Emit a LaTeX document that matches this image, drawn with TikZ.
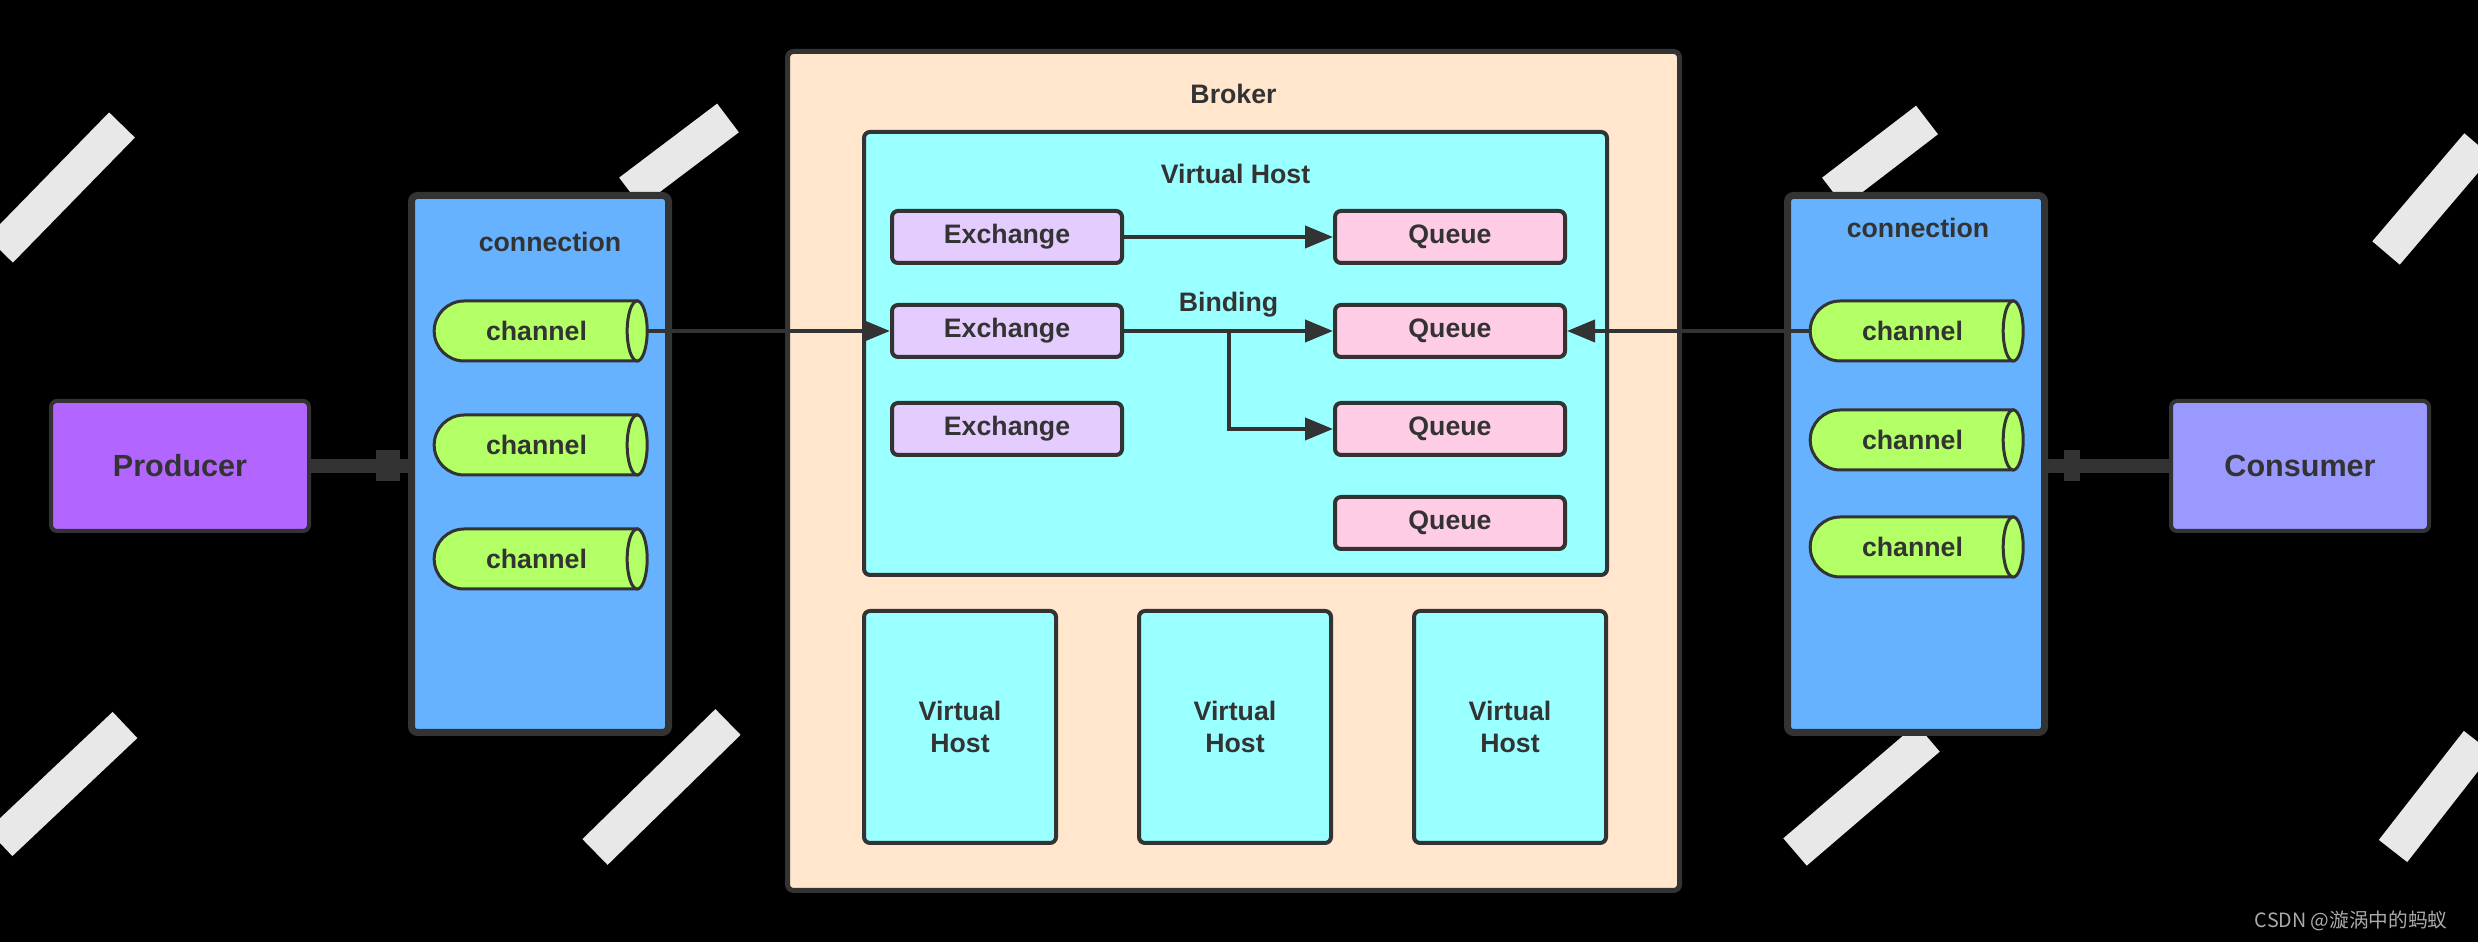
\documentclass[tikz,border=0pt]{standalone}
\usepackage{fontspec}
\setmainfont{Liberation Sans}
\newfontfamily\cjk{Noto Sans CJK SC}
\usetikzlibrary{arrows.meta,positioning,calc,shapes.misc}
\definecolor{ink}{RGB}{51,51,51}
\definecolor{prodpurple}{RGB}{178,102,255}
\definecolor{conslilac}{RGB}{153,153,255}
\definecolor{connblue}{RGB}{102,178,255}
\definecolor{changreen}{RGB}{178,255,102}
\definecolor{brokerpeach}{RGB}{255,230,204}
\definecolor{vhostcyan}{RGB}{153,255,255}
\definecolor{exlilac}{RGB}{229,204,255}
\definecolor{queuepink}{RGB}{255,204,229}
\definecolor{markgray}{RGB}{232,232,232}
\definecolor{csdngray}{RGB}{170,170,170}

\begin{document}
\begin{tikzpicture}[
    every node/.style={font=\bfseries\fontsize{7.6}{9}\selectfont, text=ink},
    box/.style={draw=ink, line width=0.04cm, rounded corners=0.06cm, inner sep=0pt, align=center},
    endbox/.style={box, minimum width=2.58cm, minimum height=1.30cm, font=\bfseries\fontsize{8.7}{10}\selectfont},
    connbox/.style={box, fill=connblue, line width=0.07cm, minimum width=2.57cm, minimum height=5.37cm},
    exbox/.style={box, fill=exlilac, minimum width=2.30cm, minimum height=0.52cm},
    qbox/.style={box, fill=queuepink, minimum width=2.30cm, minimum height=0.52cm},
    vhbox/.style={box, fill=vhostcyan, minimum width=1.92cm, minimum height=2.32cm},
    chan/.style={rounded rectangle, rounded rectangle right arc=none, draw=ink, line width=0.03cm, fill=changreen, minimum width=2.03cm, minimum height=0.60cm, inner sep=0pt, outer sep=0pt},
    chanend/.style={draw=ink, line width=0.03cm, fill=changreen},
    flow/.style={draw=ink, line width=0.04cm, -{Triangle[length=0.28cm, width=0.22cm]}},
    link/.style={draw=ink, line width=0.14cm},
    wmark/.style={draw=markgray, line width=0.36cm}
  ]
    % background and margins
    \fill[black] (0,0) rectangle (24.78,9.42);
    \useasboundingbox (0,0) rectangle (24.78,9.42);

    % watermark strokes
    \draw[wmark] (0,6.92) -- (1.22,8.17);
    \draw[wmark] (6.30,7.50) -- (7.28,8.24);
    \draw[wmark] (18.33,7.50) -- (19.27,8.22);
    \draw[wmark] (23.86,6.89) -- (24.78,7.97);
    \draw[wmark] (0,0.99) -- (1.25,2.17);
    \draw[wmark] (5.95,0.90) -- (7.28,2.20);
    \draw[wmark] (17.95,0.90) -- (19.28,2.04);
    \draw[wmark] (23.93,0.91) -- (24.78,2.00);

    % broker with its virtual hosts
    \node[box, fill=brokerpeach, line width=0.05cm, minimum width=8.92cm, minimum height=8.39cm] (broker) at (12.335,4.71) {};
    \node (brokerlbl) at ([yshift=-0.45cm]broker.north) {Broker};
    \node[box, fill=vhostcyan, minimum width=7.43cm, minimum height=4.43cm] (vhost) at (12.355,5.885) {};
    \node (vhostlbl) at ([yshift=-0.44cm]vhost.north) {Virtual Host};

    \node[exbox] (ex2) at (10.07,6.11) {Exchange};
    \node[exbox, above=0.38cm of ex2] (ex1) {Exchange};
    \node[exbox, below=0.42cm of ex2] (ex3) {Exchange};
    \node[qbox, right=2.09cm of ex2] (q2) {Queue};
    \node[qbox, above=0.38cm of q2] (q1) {Queue};
    \node[qbox, below=0.42cm of q2] (q3) {Queue};
    \node[qbox, below=0.38cm of q3] (q4) {Queue};

    \node[vhbox] (vh1) at (9.60,2.15) {Virtual\\Host};
    \node[vhbox, right=0.79cm of vh1] (vh2) {Virtual\\Host};
    \node[vhbox, right=0.79cm of vh2] (vh3) {Virtual\\Host};

    % connections and channels
    \node[connbox] (lconn) at (5.40,4.78) {};
    \node (lconnlbl) at ([xshift=0.10cm, yshift=-0.50cm]lconn.north) {connection};
    \node[connbox] (rconn) at (19.16,4.78) {};
    \node (rconnlbl) at ([xshift=0.02cm, yshift=-0.36cm]rconn.north) {connection};

    \node[chan] (lch1) at (5.365,6.11) {channel\hspace{0.3cm}};
    \node[chan, below=0.54cm of lch1] (lch2) {channel\hspace{0.3cm}};
    \node[chan, below=0.54cm of lch2] (lch3) {channel\hspace{0.3cm}};
    \node[chan] (rch1) at (19.125,6.11) {channel\hspace{0.3cm}};
    \node[chan, below=0.49cm of rch1] (rch2) {channel\hspace{0.3cm}};
    \node[chan, below=0.47cm of rch2] (rch3) {channel\hspace{0.3cm}};

    % clients
    \node[endbox, fill=prodpurple] (prod) at (1.80,4.76) {Producer};
    \node[endbox, fill=conslilac] (cons) at (23.00,4.76) {Consumer};

    \draw[link] (prod.east) -- (prod.east -| lconn.west);
    \fill[ink] ($(prod.east -| lconn.west)+(-0.32,-0.155)$) rectangle ++(0.24,0.31);
    \draw[link] (cons.west) -- (cons.west -| rconn.east);
    \fill[ink] ($(cons.west -| rconn.east)+(0.16,-0.155)$) rectangle ++(0.16,0.31);

    % message flow
    \draw[flow] ([xshift=0.10cm]lch1.east) -- (ex2.west);
    \draw[flow] (rch1.west) -- (q2.east);
    \draw[flow] (ex1.east) -- (q1.west);
    \draw[flow] (ex2.east) -- node[above] (bind) {Binding} (q2.west);
    \coordinate (split) at ($(ex2.east)!0.5!(q2.west)$);
    \draw[flow] (split) |- (q3.west);

    % channel ends
    \draw[chanend] (lch1.east) ellipse [x radius=0.10cm, y radius=0.30cm];
    \draw[chanend] (lch2.east) ellipse [x radius=0.10cm, y radius=0.30cm];
    \draw[chanend] (lch3.east) ellipse [x radius=0.10cm, y radius=0.30cm];
    \draw[chanend] (rch1.east) ellipse [x radius=0.10cm, y radius=0.30cm];
    \draw[chanend] (rch2.east) ellipse [x radius=0.10cm, y radius=0.30cm];
    \draw[chanend] (rch3.east) ellipse [x radius=0.10cm, y radius=0.30cm];

    \node[font=\cjk\fontsize{5.6}{6.5}\selectfont, text=csdngray, anchor=east] (csdn) at (24.60,0.21) {CSDN @漩涡中的蚂蚁};
\end{tikzpicture}
\end{document}
